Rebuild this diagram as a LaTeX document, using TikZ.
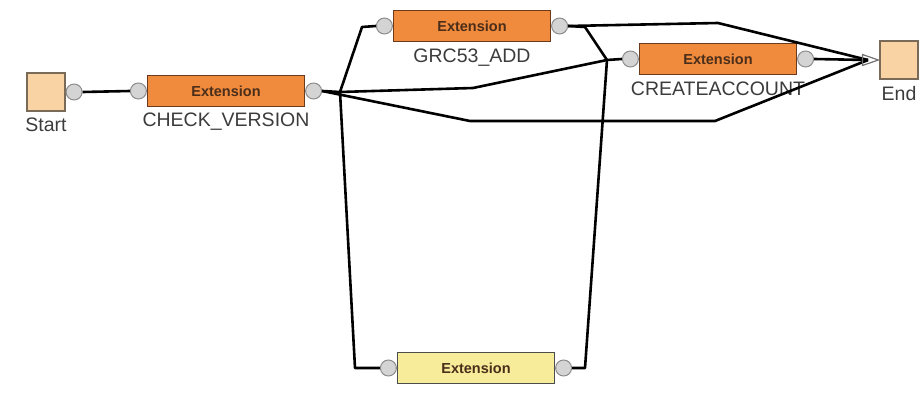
\documentclass[tikz,border=0pt]{standalone}
\usepackage{fontspec}
\setmainfont{Liberation Sans}
\usetikzlibrary{positioning,arrows.meta}
\definecolor{extfill}{HTML}{F08A3C}
\definecolor{extline}{HTML}{6B3A1C}
\definecolor{exttext}{HTML}{4A2E1A}
\definecolor{idlefill}{HTML}{F6EC9A}
\definecolor{termfill}{HTML}{FAD3A4}
\definecolor{termline}{HTML}{7A6A58}
\definecolor{portfill}{HTML}{D4D4D4}
\definecolor{portline}{HTML}{8C8C8C}
\definecolor{lblgray}{HTML}{3C3C3C}

\begin{document}
\begin{tikzpicture}[x=1pt,y=-1pt,
    ext/.style={rectangle,draw=extline,fill=extfill,line width=1.2pt,minimum width=157pt,minimum height=31pt,inner sep=0pt,font=\bfseries\fontsize{14.5}{15}\selectfont,text=exttext},
    term/.style={rectangle,draw=termline,fill=termfill,line width=1.2pt,minimum size=38pt,inner sep=0pt},
    port/.style={circle,draw=portline,fill=portfill,line width=1pt,minimum size=16pt,inner sep=0pt},
    lbl/.style={font=\fontsize{19.5}{20}\selectfont,text=lblgray,inner sep=0pt},
    wire/.style={line width=2.6pt,line join=round}]
    \useasboundingbox (0,0) rectangle (920,396);

    % activities
    \node[term] (start) at (46,92) {};
    \node[ext] (cv) at (226,91) {Extension};
    \node[ext] (grc) at (472,26) {Extension};
    \node[ext] (ca) at (718,59) {Extension};
    \node[ext,fill=idlefill,draw=black!70] (idle) at (476,368) {Extension};
    \node[term] (end) at (899,60) {};

    % labels
    \node[lbl,below=6pt of start] (startlbl) {Start};
    \node[lbl,below=6pt of cv] (cvlbl) {CHECK\_VERSION};
    \node[lbl,below=7pt of grc] (grclbl) {GRC53\_ADD};
    \node[lbl,below=7pt of ca] (calbl) {CREATEACCOUNT};
    \node[lbl,below=7pt of end] (endlbl) {End};

    % ports
    \node[port,right=0pt of start] (startout) {};
    \node[port,left=0pt of cv] (cvin) {};
    \node[port,right=0pt of cv] (cvout) {};
    \node[port,left=0pt of grc] (grcin) {};
    \node[port,right=0pt of grc] (grcout) {};
    \node[port,left=0pt of ca] (cain) {};
    \node[port,right=0pt of ca] (caout) {};
    \node[port,left=0pt of idle] (idlein) {};
    \node[port,right=0pt of idle] (idleout) {};

    % transitions
    \coordinate (cvfork) at (340,92);
    \coordinate (camerge) at (607,60);
    \coordinate (endin) at (868,60);
    \draw[wire] (startout.east) -- (cvin.west);
    \draw[wire] (cvout.east) -- (cvfork) -- (362,27) -- (grcin.west);
    \draw[wire] (cvfork) -- (355,368) -- (idlein.west);
    \draw[wire] (cvfork) -- (473,88) -- (camerge) -- (cain.west);
    \draw[wire] (cvout.east) -- (470,121) -- (715,121) -- (endin);
    \draw[wire] (grcout.east) -- (718,23) -- (endin);
    \draw[wire] (grcout.east) -- (585,27) -- (camerge);
    \draw[wire] (idleout.east) -- (585,368) -- (camerge);
    \draw[wire] (caout.east) -- (endin);
    % open arrow head into End
    \draw[black!55,line width=1.2pt,line join=round] ([xshift=-1pt]end.west) -- ++(-16,-5.5) -- ++(0,11) -- cycle;
\end{tikzpicture}
\end{document}
